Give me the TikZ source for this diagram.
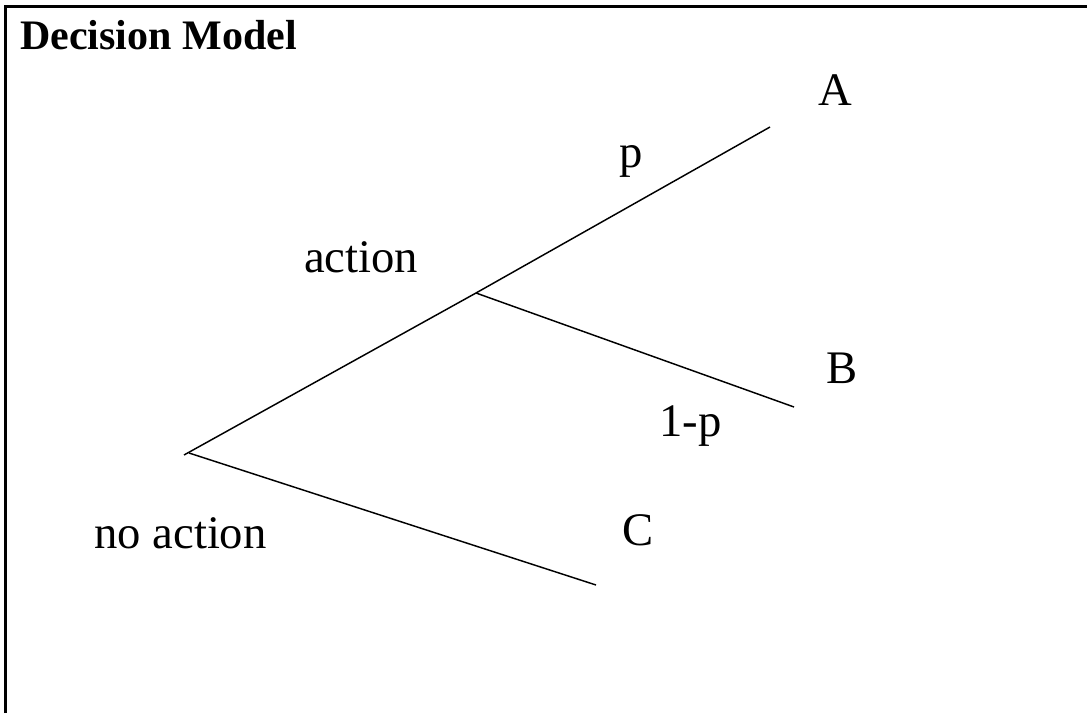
\documentclass[tikz,border=0pt]{standalone}
\usepackage{fontspec}
\setmainfont{Liberation Serif}
\begin{document}
\begin{tikzpicture}[x=0.75pt,y=-0.75pt,
  branch/.style={line width=1.1pt},
  frame/.style={line width=1.9pt},
  lbl/.style={anchor=base west,inner sep=0pt,font=\fontsize{35}{42}\selectfont},
  ttl/.style={anchor=base west,inner sep=0pt,font=\fontsize{31.5}{38}\selectfont\bfseries}]
\useasboundingbox (0,0) rectangle (1087,713);
\coordinate (fb) at (5.5,713);
\coordinate (fc) at (5.5,6.5);
\coordinate (fr) at (1087,6.5);
\draw[frame] (fb) -- (fc) -- (fr);
\node[ttl] (title) at (20,50) {Decision Model};
\coordinate (root) at (184,455);
\coordinate (root2) at (189,453);
\coordinate (mid) at (476,293);
\coordinate (endA) at (770,127);
\coordinate (endB) at (794,407);
\coordinate (endC) at (596,585);
\draw[branch] (root) -- (mid) -- (endA);
\draw[branch] (mid) -- (endB);
\draw[branch] (root2) -- (endC);
\node[lbl] (A) at (818,106) {A};
\node[lbl] (p) at (619,167) {p};
\node[lbl] (action) at (304,272) {action};
\node[lbl] (B) at (826,383) {B};
\node[lbl] (q) at (659,436) {1-p};
\node[lbl] (noaction) at (94,548) {no action};
\node[lbl] (C) at (622,545) {C};
\end{tikzpicture}
\end{document}
